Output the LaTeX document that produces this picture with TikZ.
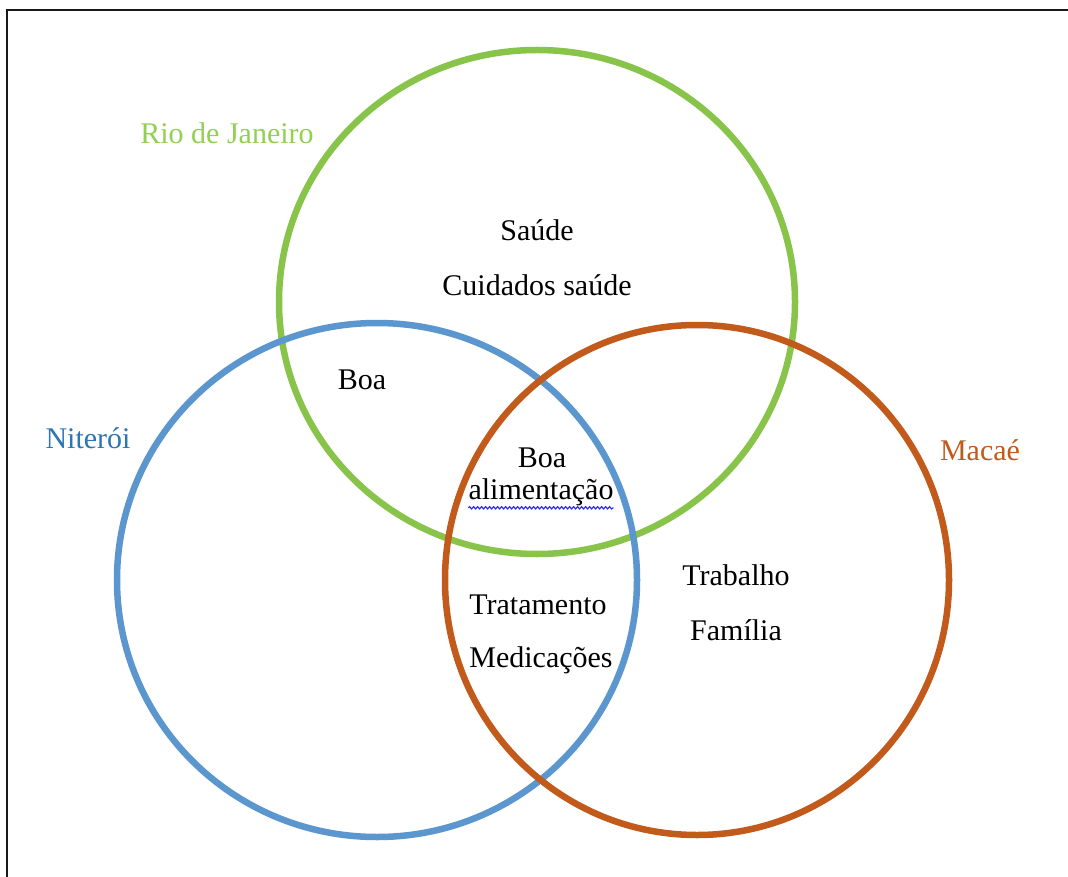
\documentclass[tikz,border=0pt]{standalone}
\usepackage{fontspec}
\setmainfont{Liberation Serif}
\usetikzlibrary{decorations.pathmorphing}
\definecolor{rioG}{RGB}{137,196,74}
\definecolor{nitB}{RGB}{91,150,206}
\definecolor{macO}{RGB}{193,90,26}
\definecolor{rioT}{RGB}{146,208,80}
\definecolor{nitT}{RGB}{46,117,182}
\tikzset{
  ring/.style={line width=6.5pt},
  lbl/.style={font=\fontsize{30}{36}\selectfont, inner sep=0pt},
}
\begin{document}
\begin{tikzpicture}[x=1pt,y=-1pt]
\useasboundingbox (0,0) rectangle (1068,877);
\fill[white] (0,0) rectangle (1068,877);
\draw[line width=2.6pt,black!90] (7,877) -- (7,10) -- (1068,10);
\draw[ring,rioG] (537,302) ellipse [x radius=258, y radius=252];
\draw[ring,nitB] (377,580) ellipse [x radius=260, y radius=257];
\draw[ring,macO] (697,580) ellipse [x radius=252, y radius=255];
\node[lbl,text=rioT] (rio) at (227,133) {Rio de Janeiro};
\node[lbl,text=nitT] (nit) at (88,438) {Niterói};
\node[lbl,text=macO] (mac) at (980,450) {Macaé};
\node[lbl] (saude) at (537,230) {Saúde};
\node[lbl] (cuid) at (537,285) {Cuidados saúde};
\node[lbl] (boa1) at (362,380) {Boa};
\node[lbl] (boa2) at (542,458) {Boa};
\node[lbl] (alim) at (541,492) {alimentação};
\node[lbl] (trab) at (736,575) {Trabalho};
\node[lbl] (fam) at (736,630) {Família};
\node[lbl] (trat) at (538,605) {Tratamento};
\node[lbl] (med) at (541,660) {Medicações};
\draw[blue!85,line width=1.1pt,decorate,decoration={snake,amplitude=1.2pt,segment length=4pt}]
  ([yshift=-2pt]alim.south west) -- ([yshift=-2pt]alim.south east);
\end{tikzpicture}
\end{document}
